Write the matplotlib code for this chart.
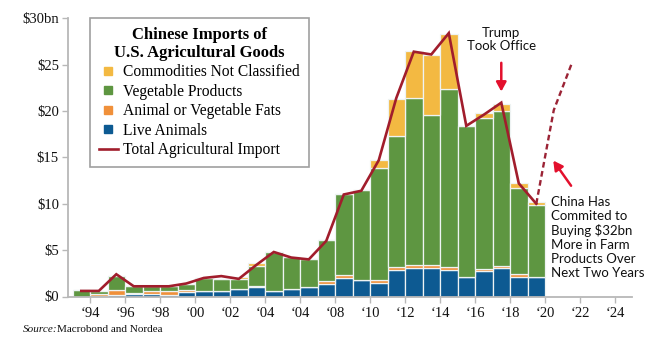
import matplotlib.pyplot as plt
import numpy as np
from matplotlib.lines import Line2D

# Chinese imports of U.S. agricultural goods, $bn
years = np.arange(1993, 2020)
live_animals = [0.0, 0.1, 0.2, 0.3, 0.3, 0.2, 0.45, 0.63, 0.63, 0.8, 1.0, 0.63, 0.78, 1.0,
                1.4, 2.0, 1.8, 1.5, 2.9, 3.1, 3.1, 2.9, 2.1, 2.7, 3.1, 2.1, 2.1]
fats = [0.0, 0.2, 0.5, 0.05, 0.3, 0.4, 0.3, 0.0, 0.0, 0.0, 0.1, 0.0, 0.0, 0.0,
        0.3, 0.3, 0.0, 0.3, 0.3, 0.3, 0.3, 0.3, 0.05, 0.3, 0.2, 0.3, 0.05]
vegetable = [0.65, 0.3, 1.5, 0.8, 0.5, 0.5, 0.65, 1.4, 1.3, 1.05, 2.2, 4.2, 3.5, 3.0,
             4.4, 8.7, 9.7, 12.1, 14.1, 18.0, 16.2, 19.2, 16.25, 16.3, 16.7, 9.3, 7.75]
not_classified = [0.0, 0.0, 0.0, 0.0, 0.0, 0.0, 0.0, 0.0, 0.0, 0.2, 0.3, 0.0, 0.0, 0.0,
                  0.0, 0.0, 0.0, 0.85, 4.0, 5.1, 6.4, 5.9, 0.0, 0.5, 0.8, 0.5, 0.3]
total = [0.6, 0.6, 2.4, 1.1, 1.1, 1.1, 1.4, 2.0, 2.2, 1.9, 3.4, 4.8, 4.2, 4.0,
         6.0, 11.0, 11.4, 14.7, 21.4, 26.4, 26.1, 28.4, 18.4, 19.6, 20.9, 12.2, 10.0]

# committed purchases, dashed path
proj_years = [2019, 2020, 2021]
proj_values = [10.0, 20.1, 25.0]

xtick_years = np.arange(1994, 2025, 2)
xtick_labels = ['\u201894', '\u201896', '\u201898', '\u201800', '\u201802', '\u201804', '\u201804',
                '\u201808', '\u201810', '\u201812', '\u201814', '\u201816', '\u201818', '\u201820',
                '\u201822', '\u201824']
ytick_values = [0, 5, 10, 15, 20, 25, 30]
ytick_labels = ['\\$0', '\\$5', '\\$10', '\\$15', '\\$20', '\\$25', '\\$30bn']

BLUE = '#0d5a92'
ORANGE = '#f0903a'
GREEN = '#5e9641'
YELLOW = '#f3b942'
LINE = '#a11d2c'
RED = '#e3102d'
GREY = '#b8b8b8'
SERIF = 'Liberation Serif'
SANS = 'Lato'

fig = plt.figure(figsize=(6.67, 3.43), dpi=100)
ax = fig.add_axes([68 / 667, 46.5 / 343, (632 - 68) / 667, (296.5 - 18.3) / 343])

x = years + 0.5
bottom = np.zeros(len(years))
for vals, col in [(live_animals, BLUE), (fats, ORANGE), (vegetable, GREEN), (not_classified, YELLOW)]:
    ax.bar(x, vals, width=1.0, bottom=bottom, color=col, edgecolor='#eef3f3', linewidth=0.9, zorder=2)
    bottom += np.array(vals)

ax.plot(x, total, color=LINE, lw=1.9, solid_joinstyle='miter', zorder=4)
ax.plot(np.array(proj_years) + 0.5, proj_values, color='#9b2335', lw=1.7,
        linestyle=(0, (2.4, 1.5)), zorder=4)

ax.set_xlim(1992.74, 2024.97)
ax.set_ylim(0, 30)
ax.set_xticks(xtick_years)
ax.set_xticklabels(xtick_labels, fontfamily=SERIF, fontsize=10.5)
ax.set_yticks(ytick_values)
ax.set_yticklabels(ytick_labels, fontfamily=SERIF, fontsize=10.5)
for side in ['top', 'right']:
    ax.spines[side].set_visible(False)
for side in ['left', 'bottom']:
    ax.spines[side].set_color(GREY)
    ax.spines[side].set_linewidth(1.3)
ax.tick_params(axis='both', color=GREY, labelcolor='#111111', length=4.5, width=1, pad=2)
ax.tick_params(axis='x', pad=3)

# annotations
ax.text(2017.5, 29.1, 'Trump\nTook Office', ha='center', va='top', fontfamily=SANS,
        fontsize=9.5, linespacing=1.15, color='#111111')
ax.annotate('', xy=(2017.5, 21.8), xytext=(2017.5, 25.5),
            arrowprops=dict(arrowstyle='-|>,head_length=0.55,head_width=0.3', color=RED, lw=1.8))
ax.annotate('', xy=(2020.38, 14.9), xytext=(2021.58, 11.7),
            arrowprops=dict(arrowstyle='-|>,head_length=0.55,head_width=0.3', color=RED, lw=1.8))
ax.text(2020.33, 10.85, 'China Has\nCommited to\nBuying \\$32bn\nMore in Farm\nProducts Over\nNext Two Years',
        ha='left', va='top', fontfamily=SANS, fontsize=9.5, linespacing=1.2, color='#111111')

# legend
handles = [
    Line2D([], [], ls='none', marker='s', ms=6, mfc=YELLOW, mec=YELLOW),
    Line2D([], [], ls='none', marker='s', ms=6, mfc=GREEN, mec=GREEN),
    Line2D([], [], ls='none', marker='s', ms=6, mfc=ORANGE, mec=ORANGE),
    Line2D([], [], ls='none', marker='s', ms=6, mfc=BLUE, mec=BLUE),
    Line2D([], [], color=LINE, lw=1.9),
]
labels = ['Commodities Not Classified', 'Vegetable Products', 'Animal or Vegetable Fats',
          'Live Animals', 'Total Agricultural Import']
leg = fig.legend(handles, labels, loc='upper left', bbox_to_anchor=(90 / 667, 1 - 18 / 343),
                 title='Chinese Imports of\nU.S. Agricultural Goods',
                 prop={'family': SERIF, 'size': 11.2},
                 title_fontproperties={'family': SERIF, 'size': 12, 'weight': 'bold'},
                 frameon=True, fancybox=False, framealpha=1, edgecolor='#a0a0a0',
                 handlelength=1.25, handletextpad=0.35, labelspacing=0.22, borderpad=0.55,
                 borderaxespad=0)
leg.get_frame().set_linewidth(1.2)
leg.get_title().set_multialignment('center')

fig.text(23 / 667, 1 - 332 / 343, 'Source:', fontfamily=SERIF, fontstyle='italic', fontsize=8,
         color='#111111')
fig.text(57 / 667, 1 - 332 / 343, 'Macrobond and Nordea', fontfamily=SERIF, fontsize=8,
         color='#111111')

fig.savefig('out.png', dpi=100)
